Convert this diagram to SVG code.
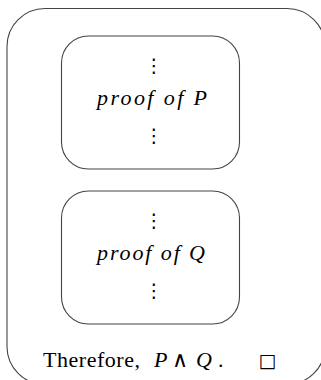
<svg xmlns="http://www.w3.org/2000/svg" width="321" height="380" viewBox="0 0 321 380">
<style>
.box{fill:#fff;stroke:#444;stroke-width:1.1}
.m{font-family:"Liberation Serif",serif;font-style:italic;font-size:22px;fill:#000}
.r{font-family:"Liberation Serif",serif;font-size:22px;fill:#000}
.d{font-family:"DejaVu Sans",sans-serif;font-size:19px;fill:#000;text-anchor:middle}
</style>
<rect width="321" height="380" fill="#fff"/>
<g id="outer">
<rect class="box" x="7" y="8.5" width="318" height="376" rx="38"/>
<text class="r" x="43" y="366.5" textLength="97" lengthAdjust="spacing">Therefore,</text>
<text class="m" x="154" y="366.5">P</text>
<text class="r" x="172" y="366.5" font-family="DejaVu Sans, sans-serif" font-weight="200" font-size="17">∧</text>
<text class="m" x="196" y="366.5">Q</text>
<text class="r" x="218" y="366.5">.</text>
<text class="d" x="267.5" y="367" font-size="22">□</text>
</g>
<g id="proofP">
<rect class="box" x="61.5" y="36" width="178" height="133" rx="27"/>
<text class="d" x="154" y="72">⋮</text>
<text class="m" x="97" y="105" textLength="110" lengthAdjust="spacing">proof of P</text>
<text class="d" x="154" y="142">⋮</text>
</g>
<g id="proofQ">
<rect class="box" x="61.5" y="191" width="178" height="133" rx="27"/>
<text class="d" x="154" y="227">⋮</text>
<text class="m" x="97" y="260" textLength="108" lengthAdjust="spacing">proof of Q</text>
<text class="d" x="154" y="297">⋮</text>
</g>
<g id="connectors"/>
</svg>
